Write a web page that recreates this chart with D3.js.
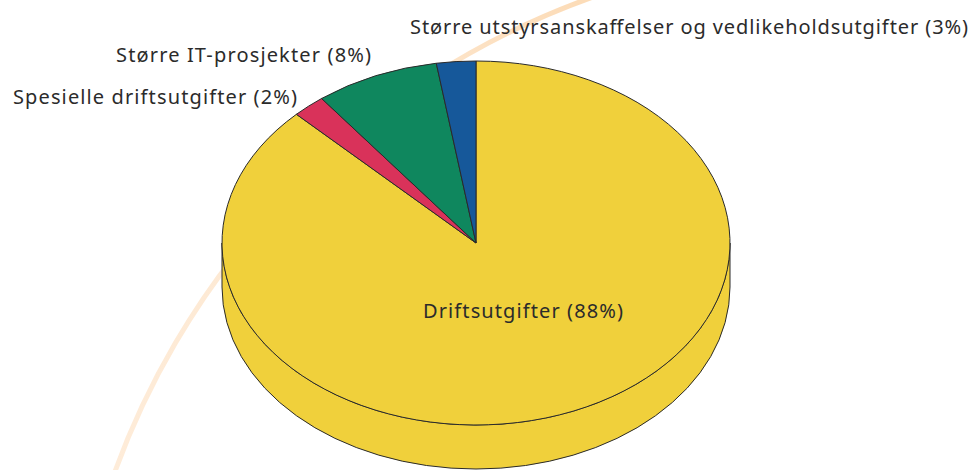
<!DOCTYPE html>
<html>
<head>
<meta charset="utf-8">
<script src="https://cdn.jsdelivr.net/npm/d3@7"></script>
<style>
  body { margin: 0; background: #fff; }
  svg { display: block; }
  text { font-family: "Noto Sans", sans-serif; fill: #2b2b2b; }
</style>
</head>
<body>
<div id="chart"></div>
<script>
// slices, in clockwise order starting at 12 o'clock
const categories = ['Driftsutgifter', 'Spesielle driftsutgifter', 'Større IT-prosjekter', 'Større utstyrsanskaffelser og vedlikeholdsutgifter'];
const shares     = [87.5, 2.1, 7.9, 2.5];          // measured slice sizes
const pctLabels  = ['88%', '2%', '8%', '3%'];      // printed labels
const colors     = ['#f0d03b', '#d9325a', '#0f875e', '#16589a'];

;(function(){
  const W = 973, H = 470;
  const cx = 476, cy = 243, rx = 254, ry = 182, depth = 44;

  const svg = d3.select('#chart').append('svg')
    .attr('width', W).attr('height', H);

  // faint decorative swoosh behind the pie
  const defs = svg.append('defs');
  const grad = defs.append('linearGradient')
    .attr('id', 'swoosh').attr('gradientUnits', 'userSpaceOnUse')
    .attr('x1', 570).attr('y1', 0).attr('x2', 110).attr('y2', 470);
  grad.append('stop').attr('offset', 0).attr('stop-color', '#fcdcb8');
  grad.append('stop').attr('offset', 0.3).attr('stop-color', '#fde7cf');
  grad.append('stop').attr('offset', 1).attr('stop-color', '#feecd9');

  const swoosh = d3.path();
  swoosh.arc(859, 743, 792, Math.PI + 0.3, 4.37, false);
  svg.append('path')
    .attr('d', swoosh.toString())
    .attr('fill', 'none')
    .attr('stroke', 'url(#swoosh)')
    .attr('stroke-width', 5);

  // side wall (only the front half shows, and it is all the big slice)
  const side = `M${cx + rx},${cy} L${cx + rx},${cy + depth}`
    + ` A${rx},${ry} 0 0 1 ${cx - rx},${cy + depth}`
    + ` L${cx - rx},${cy}`
    + ` A${rx},${ry} 0 0 0 ${cx + rx},${cy} Z`;
  svg.append('path')
    .attr('d', side)
    .attr('fill', colors[0])
    .attr('stroke', '#2a2a2a')
    .attr('stroke-width', 1);

  // top face: circular pie squashed into an ellipse
  const pie = d3.pie().sort(null).value(d => d.v);
  const arcs = pie(shares.map((v, i) => ({ v, i })));
  const arc = d3.arc().innerRadius(0).outerRadius(rx);

  svg.append('g')
    .attr('transform', `translate(${cx},${cy}) scale(1,${ry / rx})`)
    .selectAll('path')
    .data(arcs)
    .join('path')
      .attr('d', arc)
      .attr('fill', d => colors[d.data.i])
      .attr('stroke', '#2a2a2a')
      .attr('stroke-width', 1)
      .attr('stroke-linejoin', 'round')
      .attr('vector-effect', 'non-scaling-stroke');

  // labels
  const labelPos = [
    { x: 523, y: 318, anchor: 'middle', len: 200 },
    { x: 13,  y: 104, anchor: 'start',  len: 284 },
    { x: 116, y: 62,  anchor: 'start',  len: 255 },
    { x: 410, y: 34,  anchor: 'start',  len: 558 }
  ];
  svg.append('g')
    .selectAll('text')
    .data(categories)
    .join('text')
      .attr('x', (d, i) => labelPos[i].x)
      .attr('y', (d, i) => labelPos[i].y)
      .attr('text-anchor', (d, i) => labelPos[i].anchor)
      .attr('textLength', (d, i) => labelPos[i].len)
      .attr('font-size', 20)
      .text((d, i) => `${d} (${pctLabels[i]})`);
})();
</script>
</body>
</html>
